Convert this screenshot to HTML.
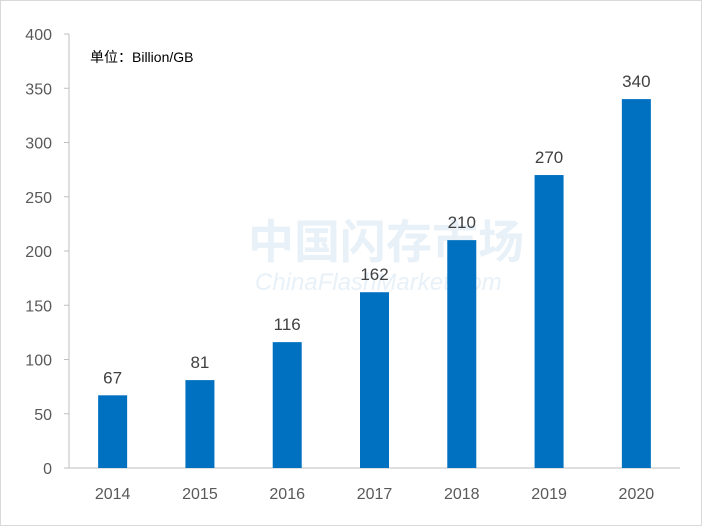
<!DOCTYPE html>
<html><head><meta charset="utf-8"><style>
body{margin:0;background:#fff}
svg{display:block;font-family:"Liberation Sans","Noto Sans CJK SC",sans-serif}
</style></head><body>
<svg id="chart" width="702" height="526">
<rect x="0.5" y="0.5" width="701" height="525" fill="#fff" stroke="#d9d9d9"/>
<text x="248" y="258" font-size="46" fill="#e8f1f8" font-weight="bold">中国闪存市场</text>
<text x="255" y="290" font-size="24" fill="#e8f1f8" font-style="italic">ChinaFlashMarket.com</text>
<text x="90" y="62" font-size="14" fill="#000">单位：Billion/GB</text>
<g id="axes"></g><g id="bars"></g>
</svg>
<script>
const categories=["2014","2015","2016","2017","2018","2019","2020"];
const values=[67,81,116,162,210,270,340];
const yTicks=[0,50,100,150,200,250,300,350,400];
const ns="http://www.w3.org/2000/svg";
const x0=69,x1=680,y0=468,yTop=34,maxV=400;
const band=(x1-x0)/categories.length;
function y(v){return y0-(v/maxV)*(y0-yTop);}
function xc(i){return x0+band*(i+0.5);}
function mk(t,a,p){const e=document.createElementNS(ns,t);for(const k in a)e.setAttribute(k,a[k]);p.appendChild(e);return e;}
const ax=document.getElementById('axes'),bg=document.getElementById('bars');
const yl=mk('line',{x1:x0,x2:x0,y1:yTop,y2:y0,stroke:'#bfbfbf'},ax);


const xl=mk('line',{x1:x0,x2:x1,y1:y0,y2:y0,stroke:'#bfbfbf'},ax);


yTicks.forEach(v=>{
 const tk=mk('line',{x1:x0-5,x2:x0,y1:y(v),y2:y(v),stroke:'#bfbfbf'},ax);
 
 
 const t=mk('text',{x:52,y:y(v)+6,'text-anchor':'end','font-size':16,fill:'#595959'},ax);
 t.textContent=v;
 
 
});
categories.forEach((c,i)=>{
 const t=mk('text',{x:xc(i),y:499,'text-anchor':'middle','font-size':16,fill:'#595959'},ax);
 t.textContent=c;
 
 
 const r=mk('rect',{x:xc(i)-14.5,y:y(values[i]),width:29,height:y0-y(values[i]),fill:'#0070c0'},bg);
 
 
 const l=mk('text',{x:xc(i),y:y(values[i])-12,'text-anchor':'middle','font-size':17,fill:'#404040'},bg);
 l.textContent=values[i];
 
 
});
</script>
</body></html>
